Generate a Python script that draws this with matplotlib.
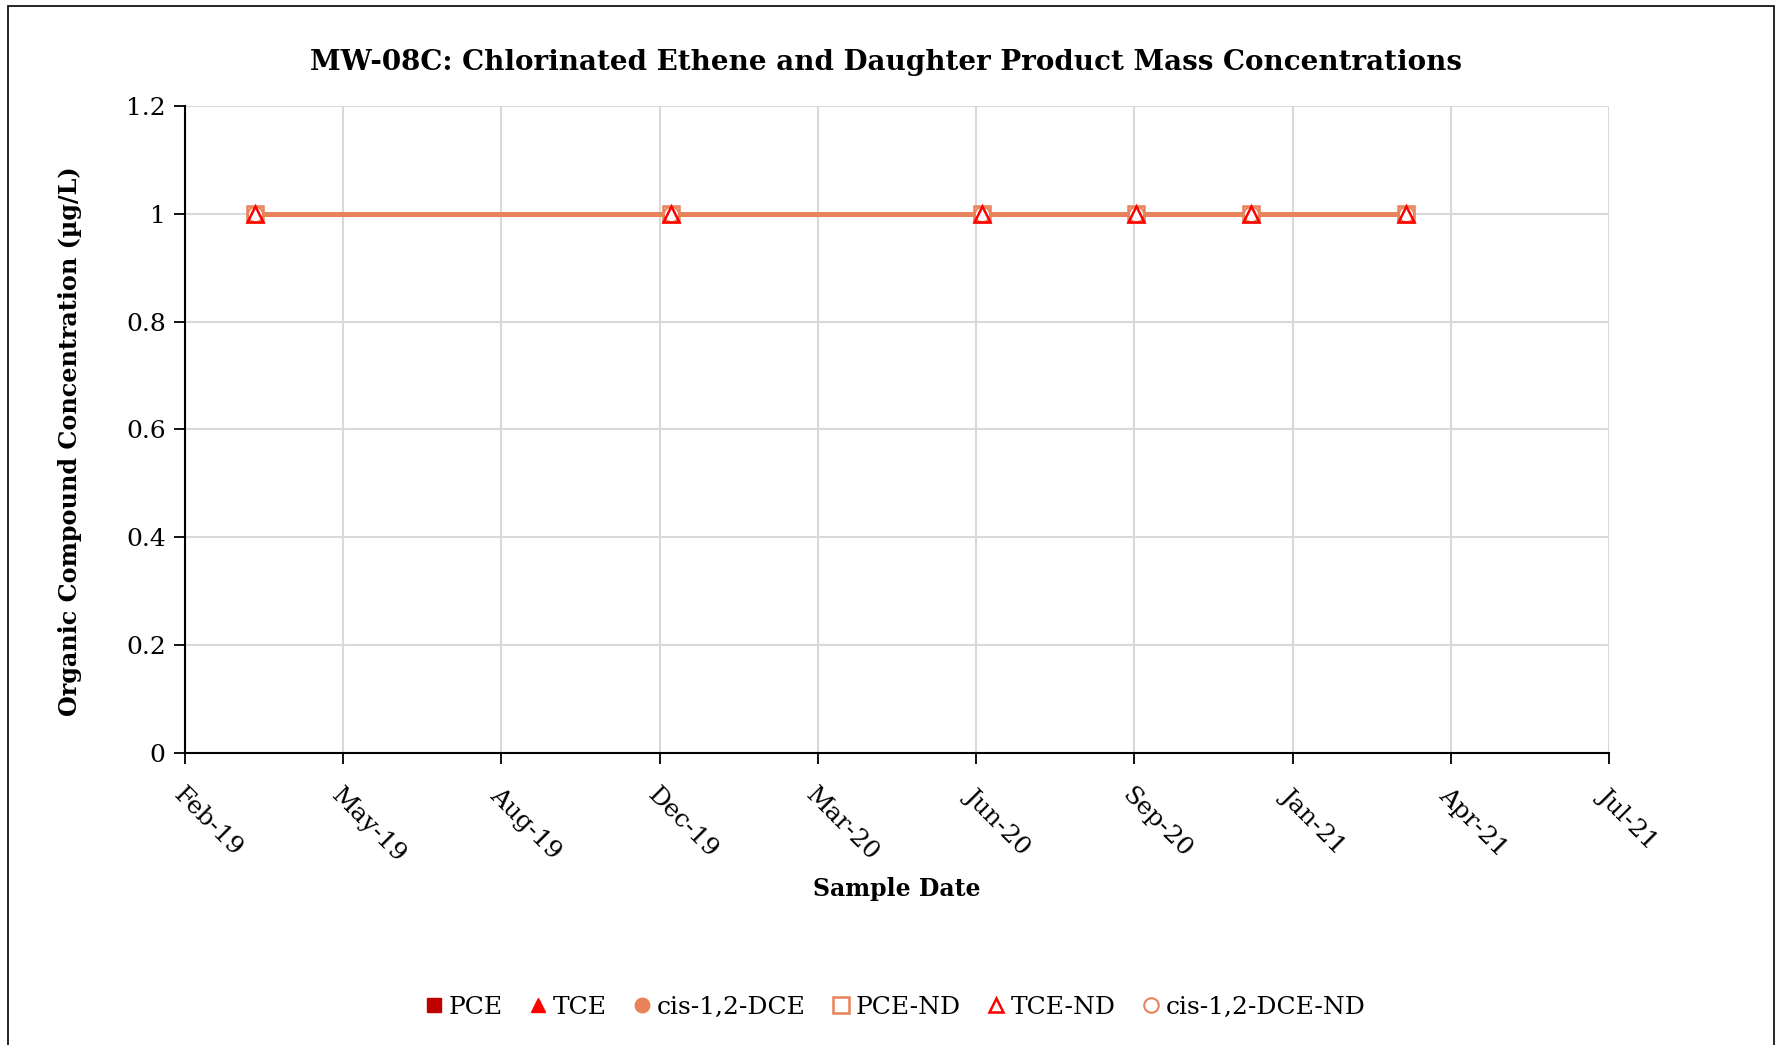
import matplotlib
matplotlib.use("Agg")
import matplotlib.pyplot as plt
import matplotlib.dates as mdates
import matplotlib.patches as mpatches
import datetime as dt

plt.rcParams['font.family'] = ['DejaVu Serif', 'Liberation Serif']

# ---- data ----
dates = [dt.date(2019, 3, 20), dt.date(2019, 12, 8), dt.date(2020, 6, 22),
         dt.date(2020, 9, 27), dt.date(2020, 12, 9), dt.date(2021, 3, 17)]
pce = []            # detected PCE (none)
tce = []            # detected TCE (none)
cis_dce = []        # detected cis-1,2-DCE (none)
pce_nd = [1, 1, 1, 1, 1, 1]
tce_nd = [1, 1, 1, 1, 1, 1]
cis_dce_nd = [1, 1, 1, 1, 1, 1]
x_start = dt.date(2019, 2, 4)
x_step_days = 100
n_ticks = 10
y_ticks = [0, 0.2, 0.4, 0.6, 0.8, 1, 1.2]
y_tick_labels = ['0', '0.2', '0.4', '0.6', '0.8', '1', '1.2']

title = "MW-08C: Chlorinated Ethene and Daughter Product Mass Concentrations"
xlabel = "Sample Date"
ylabel = "Organic Compound Concentration (\u00b5g/L)"

c_dark = '#C00000'
c_red = '#FF0000'
c_sal = '#E8825A'

fig = plt.figure(figsize=(17.83, 10.45), dpi=100)
ax = fig.add_axes([0.1038, 0.2794, 0.7986, 0.6192])

# outer frame
fig.patches.append(mpatches.Rectangle((8/1783, -0.01), (1774-8)/1783, 1 - 6/1045 + 0.01,
                                      transform=fig.transFigure, fill=False,
                                      edgecolor='black', linewidth=1.2))

ticks = [x_start + dt.timedelta(days=x_step_days * i) for i in range(n_ticks)]

# connecting line (no legend)
ax.plot(dates, cis_dce_nd, color=c_sal, linewidth=3.6, zorder=2, label='_nolegend_')

ax.plot(pce, pce, linestyle='none', marker='s', markersize=10, color=c_dark, label='PCE')
ax.plot(tce, tce, linestyle='none', marker='^', markersize=11, color=c_red, label='TCE')
ax.plot(cis_dce, cis_dce, linestyle='none', marker='o', markersize=11, color=c_sal, label='cis-1,2-DCE')
ax.plot(dates, pce_nd, linestyle='none', marker='s', markersize=12, markerfacecolor='white',
        markeredgecolor=c_sal, markeredgewidth=1.8, label='PCE-ND', zorder=3)
ax.plot(dates, cis_dce_nd, linestyle='none', marker='o', markersize=11, markerfacecolor='none',
        markeredgecolor=c_sal, markeredgewidth=1.5, label='cis-1,2-DCE-ND', zorder=4)
ax.plot(dates, tce_nd, linestyle='none', marker='^', markersize=11, markerfacecolor='none',
        markeredgecolor=c_red, markeredgewidth=1.8, label='TCE-ND', zorder=5)

ax.set_xlim(ticks[0], ticks[-1])
ax.set_ylim(0, 1.2)
ax.set_xticks(ticks)
ax.xaxis.set_major_formatter(mdates.DateFormatter('%b-%y'))
ax.set_yticks(y_ticks)
ax.set_yticklabels(y_tick_labels)

for lab in ax.get_xticklabels():
    lab.set_rotation(-45)
    lab.set_ha('left')
    lab.set_va('top')
    lab.set_rotation_mode('anchor')

ax.tick_params(axis='both', labelsize=18, direction='out', length=8, width=1.3, color='black')
ax.tick_params(axis='x', pad=14)
ax.tick_params(axis='y', pad=6)
ax.grid(True, color='#D9D9D9', linewidth=1.5, zorder=0)
ax.set_axisbelow(True)
for s in ['top', 'right']:
    ax.spines[s].set_visible(False)
for s in ['left', 'bottom']:
    ax.spines[s].set_linewidth(1.5)

fig.text(0.497, 0.940, title, ha='center', va='center', fontsize=20, fontweight='bold')
fig.text(0.503, 0.149, xlabel, ha='center', va='center', fontsize=17, fontweight='bold')
fig.text(0.039, 0.5775, ylabel, ha='center', va='center', rotation=90, fontsize=17.2, fontweight='bold')

handles, labels = ax.get_legend_handles_labels()
order = ['PCE', 'TCE', 'cis-1,2-DCE', 'PCE-ND', 'TCE-ND', 'cis-1,2-DCE-ND']
hmap = dict(zip(labels, handles))
leg = fig.legend([hmap[o] for o in order], order, loc='center', bbox_to_anchor=(0.502, 0.036),
                 ncol=6, frameon=False, fontsize=18, handlelength=0.8, handletextpad=0.2,
                 columnspacing=1.0, markerscale=0.95)

fig.savefig('out.png', dpi=100)
